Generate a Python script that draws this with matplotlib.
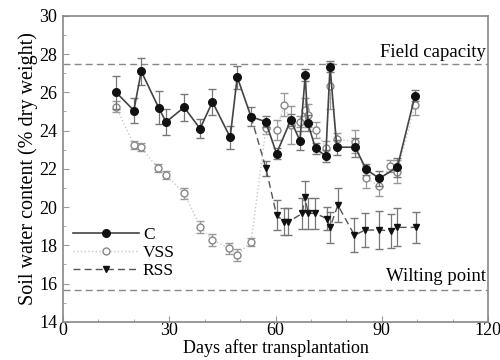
import matplotlib
matplotlib.use("Agg")
import matplotlib.pyplot as plt
from matplotlib.ticker import MultipleLocator
from matplotlib.lines import Line2D
from matplotlib.transforms import ScaledTranslation

plt.rcParams['font.family'] = ['serif']
plt.rcParams['font.serif'] = ['Liberation Serif', 'DejaVu Serif']

# Control (C)
c_days = [15.0, 20.0, 22.1, 27.0, 29.1, 34.2, 38.7, 42.2, 47.2, 49.2, 53.1, 57.2, 60.3,
          64.3, 66.9, 68.4, 69.1, 71.3, 74.2, 75.4, 77.3, 82.5, 85.6, 89.3, 94.4, 99.4]
c_vals = [26.0, 25.05, 27.1, 25.2, 24.45, 25.22, 24.1, 25.5, 23.65, 26.8, 24.72, 24.47, 22.8,
          24.55, 23.47, 26.9, 24.4, 23.07, 22.67, 27.35, 23.13, 23.13, 21.97, 21.5, 22.08, 25.83]
c_err = [0.85, 0.65, 0.7, 0.85, 0.7, 0.7, 0.5, 0.7, 0.6, 0.6, 0.5, 0.3, 0.3,
         0.3, 0.5, 0.3, 0.4, 0.3, 0.3, 0.3, 0.4, 0.5, 0.3, 0.4, 0.5, 0.3]

# Very severe stress (VSS)
vss_days = [15.0, 20.0, 21.9, 26.9, 29.1, 34.2, 38.8, 42.2, 47.0, 49.2, 53.1, 57.3, 60.3,
            62.5, 64.3, 66.9, 68.4, 69.1, 71.4, 74.2, 75.4, 77.3, 82.5, 85.6, 89.3, 92.2, 94.4, 99.4]
vss_vals = [25.25, 23.25, 23.13, 22.03, 21.68, 20.72, 18.97, 18.27, 17.84, 17.49, 18.18, 24.12, 24.03,
            25.34, 24.3, 24.47, 25.08, 24.8, 24.03, 23.07, 26.34, 23.56, 23.42, 21.5, 21.1, 22.15, 21.85, 25.34]
vss_err = [0.3, 0.2, 0.2, 0.2, 0.2, 0.3, 0.3, 0.3, 0.3, 0.3, 0.2, 0.3, 0.5,
           0.6, 1.0, 0.3, 0.6, 0.6, 0.4, 0.4, 1.2, 0.3, 0.6, 0.5, 0.5, 0.3, 0.6, 0.5]

# Recurrent severe stress (RSS)
rss_days = [53.1, 57.3, 60.3, 62.5, 63.6, 67.6, 68.2, 69.3, 71.2, 74.5, 75.4, 77.6,
            82.3, 85.3, 89.3, 92.5, 94.4, 99.7]
rss_vals = [24.72, 22.03, 19.58, 19.23, 19.23, 19.67, 20.54, 19.67, 19.67, 19.4, 18.94, 20.1,
            18.53, 18.8, 18.8, 18.76, 18.94, 18.94]
rss_err = [0.0, 0.4, 0.8, 0.7, 0.7, 0.8, 0.8, 0.8, 0.8, 0.6, 0.8, 0.9,
           0.9, 0.9, 1.0, 0.9, 1.0, 0.8]

field_capacity = 27.5
wilting_point = 15.65

fig = plt.figure(figsize=(5, 3.6), dpi=100)
ax = fig.add_axes([0.126, 0.106, 0.85, 0.85])

ax.axhline(field_capacity, color='#888888', ls=(0, (5, 3)), lw=1.0, zorder=1)
ax.axhline(wilting_point, color='#888888', ls=(0, (5, 3)), lw=1.0, zorder=1)

vss_style = dict(color='#c8c8c8', ls=':', lw=1.0, marker='o', ms=5, mfc='white',
                 mec='#888888', mew=1.0)
rss_style = dict(color='#555555', ls=(0, (5, 3)), lw=1.0, marker='v', ms=5,
                 mfc='#111111', mec='#111111')
c_style = dict(color='#444444', ls='-', lw=1.2, marker='o', ms=5.5,
               mfc='#111111', mec='#111111')

ax.errorbar(vss_days, vss_vals, yerr=vss_err, ecolor='#999999', elinewidth=0.9,
            capsize=3, zorder=3, **vss_style)
ax.errorbar(rss_days, rss_vals, yerr=rss_err, ecolor='#777777', elinewidth=0.9,
            capsize=3, zorder=4, **rss_style)
ax.errorbar(c_days, c_vals, yerr=c_err, ecolor='#777777', elinewidth=0.9,
            capsize=3, zorder=5, **c_style)

ax.set_xlim(0, 120)
ax.set_ylim(14, 30)
ax.xaxis.set_major_locator(MultipleLocator(30))
ax.xaxis.set_minor_locator(MultipleLocator(10))
ax.yaxis.set_major_locator(MultipleLocator(2))
ax.yaxis.set_minor_locator(MultipleLocator(1))
ax.tick_params(which='both', direction='in', color='#999999', labelsize=13)
ax.tick_params(axis='x', pad=0)
ax.tick_params(axis='y', pad=4)
ax.tick_params(which='major', length=4)
ax.tick_params(which='minor', length=2)
for s in ax.spines.values():
    s.set_color('#888888')
    s.set_linewidth(1.2)

fig.canvas.draw()
xlabels = ax.get_xticklabels()
last = xlabels[-1]
last.set_transform(last.get_transform() + ScaledTranslation(-6 / 100, 0, fig.dpi_scale_trans))

ax.set_xlabel('Days after transplantation', fontsize=13, labelpad=0)
ax.set_ylabel('Soil water content (% dry weight)', fontsize=14.5, labelpad=1)

ax.text(119.5, field_capacity + 0.15, 'Field capacity', ha='right', va='bottom', fontsize=13.5)
ax.text(119.5, wilting_point + 0.3, 'Wilting point', ha='right', va='bottom', fontsize=13.5,
        bbox=dict(facecolor='white', edgecolor='none', pad=0.5))

handles = [Line2D([], [], **c_style), Line2D([], [], **vss_style), Line2D([], [], **rss_style)]
leg = ax.legend(handles, ['C', 'VSS', 'RSS'],
                loc='upper left', bbox_to_anchor=(0.0, 0.345), frameon=False,
                fontsize=12.5, handlelength=3.8, handletextpad=0.2, labelspacing=0.1,
                borderaxespad=0.2)

fig.savefig('out.png', dpi=100)
